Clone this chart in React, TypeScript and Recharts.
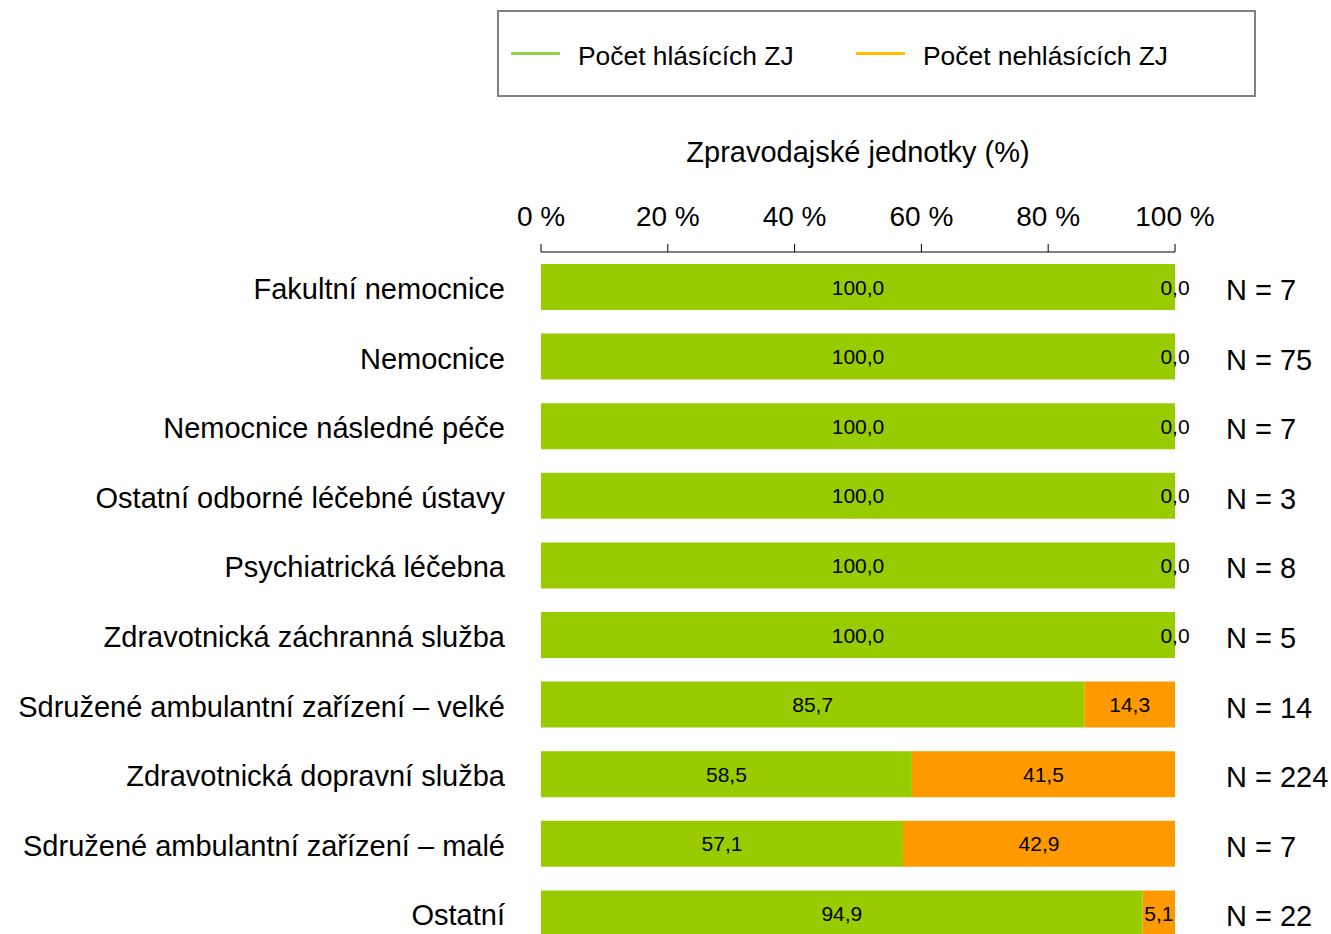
import { BarChart, Bar, XAxis, YAxis, Legend, LabelList, Label } from 'recharts';

const categories = [
  'Fakultní nemocnice',
  'Nemocnice',
  'Nemocnice následné péče',
  'Ostatní odborné léčebné ústavy',
  'Psychiatrická léčebna',
  'Zdravotnická záchranná služba',
  'Sdružené ambulantní zařízení – velké',
  'Zdravotnická dopravní služba',
  'Sdružené ambulantní zařízení – malé',
  'Ostatní',
];
const reporting = [100, 100, 100, 100, 100, 100, 85.7, 58.5, 57.1, 94.9];
const notReporting = [0, 0, 0, 0, 0, 0, 14.3, 41.5, 42.9, 5.1];
const unitCounts = [7, 75, 7, 3, 8, 5, 14, 224, 7, 22];
const percentTicks = [0, 20, 40, 60, 80, 100];

const seriesNames = ['Počet hlásících ZJ', 'Počet nehlásících ZJ'];
const axisTitle = 'Zpravodajské jednotky (%)';

const rows = categories.map((name, i) => ({
  name,
  reporting: reporting[i],
  notReporting: notReporting[i],
}));

const FONT = '"Liberation Sans", Arial, sans-serif';
const GREEN = '#99CC00';
const ORANGE = '#FF9900';

const fmt = (v: any) => Number(v).toFixed(1).replace('.', ',');
const nFor = (name: string) => `N = ${unitCounts[categories.indexOf(name)]}`;

const labelStyle = { fill: '#000', fontSize: 21, fontFamily: FONT };

// zero-width segments get no label from recharts, so the 0,0 is drawn at the end of the green bar
function ZeroLabel(props: any) {
  const { x, y, width, height, value } = props;
  if (Number(value) !== 0) return null;
  return (
    <text x={Number(x) + Number(width)} y={Number(y) + Number(height) / 2} textAnchor="middle" dominantBaseline="central" style={labelStyle}>
      {fmt(value)}
    </text>
  );
}

function SegmentLabel(props: any) {
  const { x, y, width, height, value } = props;
  if (Number(value) === 0) return null;
  return (
    <text x={Number(x) + Number(width) / 2} y={Number(y) + Number(height) / 2} textAnchor="middle" dominantBaseline="central" style={labelStyle}>
      {fmt(value)}
    </text>
  );
}

function LegendBox() {
  const items = [
    { label: seriesNames[0], color: '#92D050' },
    { label: seriesNames[1], color: '#FFC000' },
  ];
  return (
    <div
      style={{
        boxSizing: 'border-box',
        width: 759,
        height: 87,
        border: '2px solid #808080',
        display: 'flex',
        alignItems: 'center',
        paddingLeft: 12,
        fontFamily: FONT,
        fontSize: 26.4,
        color: '#000',
      }}
    >
      {items.map((it) => (
        <div key={it.label} style={{ display: 'flex', alignItems: 'center', width: 345 }}>
          <span style={{ display: 'inline-block', width: 49, height: 3, background: it.color, marginRight: 18 }} />
          <span style={{ whiteSpace: 'nowrap', position: 'relative', top: 3 }}>{it.label}</span>
        </div>
      ))}
    </div>
  );
}

export default function App() {
  return (
    <div style={{ position: 'absolute', top: 8, left: 8, width: 1323, height: 926, overflow: 'hidden', fontFamily: FONT }}>
      <BarChart
        layout="vertical"
        width={1323}
        height={945}
        data={rows}
        margin={{ top: 0, right: 0, bottom: 5, left: 0 }}
      >
        <XAxis
          type="number"
          orientation="top"
          domain={[0, 100]}
          ticks={percentTicks}
          interval={0}
          height={244}
          tickSize={8}
          tickMargin={18}
          tickFormatter={(v) => `${v} %`}
          axisLine={{ stroke: '#000' }}
          tickLine={{ stroke: '#000' }}
          tick={{ fill: '#000', fontSize: 28, fontFamily: FONT }}
        >
          <Label
            value={axisTitle}
            position="insideTop"
            offset={133}
            style={{ fill: '#000', fontSize: 29, fontFamily: FONT }}
          />
        </XAxis>
        <YAxis
          type="category"
          dataKey="name"
          width={533}
          interval={0}
          tickSize={0}
          tickMargin={36}
          axisLine={false}
          tickLine={false}
          tick={{ fill: '#000', fontSize: 29, fontFamily: FONT, dy: 2 }}
        />
        <YAxis
          yAxisId="n"
          orientation="right"
          type="category"
          dataKey="name"
          width={156}
          interval={0}
          tickSize={0}
          tickMargin={51}
          axisLine={false}
          tickLine={false}
          tickFormatter={(v) => nFor(v)}
          tick={{ fill: '#000', fontSize: 29, fontFamily: FONT, dy: 3 }}
        />
        <Legend
          layout="horizontal"
          verticalAlign="middle"
          align="center"
          wrapperStyle={{ position: 'absolute', top: 2, left: 489, width: 759, height: 87 }}
          content={() => <LegendBox />}
        />
        <Bar dataKey="reporting" name={seriesNames[0]} stackId="a" fill={GREEN} barSize={46} isAnimationActive={false}>
          <LabelList dataKey="reporting" content={SegmentLabel} />
          <LabelList dataKey="notReporting" content={ZeroLabel} />
        </Bar>
        <Bar dataKey="notReporting" name={seriesNames[1]} stackId="a" fill={ORANGE} barSize={46} isAnimationActive={false}>
          <LabelList dataKey="notReporting" content={SegmentLabel} />
        </Bar>
      </BarChart>
    </div>
  );
}
